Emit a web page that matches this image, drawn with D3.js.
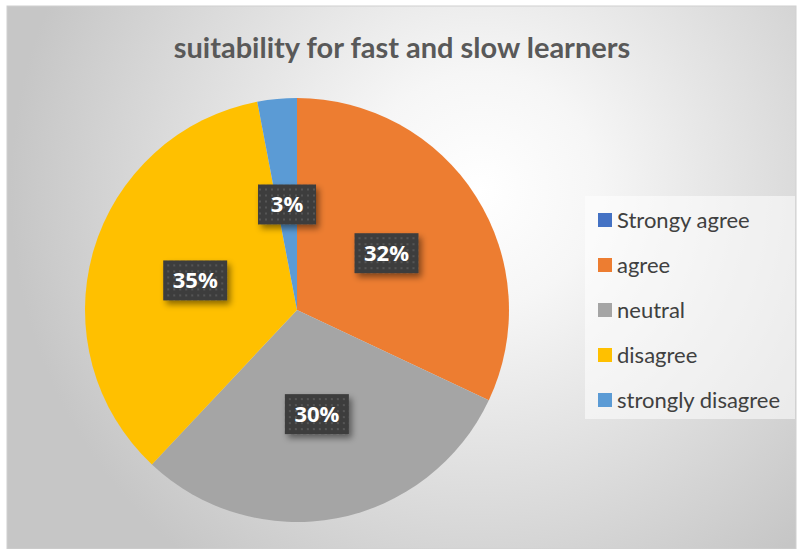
<!DOCTYPE html>
<html>
<head>
<meta charset="utf-8">
<script src="https://cdn.jsdelivr.net/npm/d3@7"></script>
<style>
  body { margin: 0; background: #fff; }
  svg { display: block; }
</style>
</head>
<body>
<script>
var width = 800;
var height = 549;

var categories = ["Strongy agree", "agree", "neutral", "disagree", "strongly disagree"];
var values = [0, 32, 30, 35, 3];
var colors = ["#4472C4", "#ED7D31", "#A5A5A5", "#FFC000", "#5B9BD5"];

var title = "suitability for fast and slow learners";

var cx = 297, cy = 310, radius = 212;

var svg = d3.select("body")
  .append("svg")
  .attr("width", width)
  .attr("height", height);

var defs = svg.append("defs");

var bg = defs.append("radialGradient")
  .attr("id", "bg")
  .attr("gradientUnits", "userSpaceOnUse")
  .attr("cx", 480).attr("cy", 190).attr("r", 470);
bg.append("stop").attr("offset", "0%").attr("stop-color", "#ffffff");
bg.append("stop").attr("offset", "25%").attr("stop-color", "#f6f6f6");
bg.append("stop").attr("offset", "100%").attr("stop-color", "#c6c6c6");

// dotted fill for the data labels
var pat = defs.append("pattern")
  .attr("id", "dots")
  .attr("patternUnits", "userSpaceOnUse")
  .attr("width", 6).attr("height", 6);
pat.append("rect").attr("width", 6).attr("height", 6).attr("fill", "#3d3d3d");
pat.append("rect").attr("x", 2).attr("y", 2).attr("width", 2).attr("height", 2).attr("fill", "#555");

var shadow = defs.append("filter").attr("id", "shadow")
  .attr("x", "-20%").attr("y", "-20%").attr("width", "150%").attr("height", "160%");
shadow.append("feDropShadow")
  .attr("dx", 3).attr("dy", 4).attr("stdDeviation", 3)
  .attr("flood-color", "#000").attr("flood-opacity", 0.45);

svg.append("rect")
  .attr("x", 7).attr("y", 6)
  .attr("width", 789).attr("height", 543)
  .attr("fill", "url(#bg)")
  .attr("stroke", "#d0d0d0");

svg.append("text")
  .attr("x", 402)
  .attr("y", 58)
  .attr("text-anchor", "middle")
  .attr("font-family", "Lato, 'Open Sans', sans-serif")
  .attr("font-weight", "bold")
  .attr("font-size", 29)
  .attr("fill", "#595959")
  .text(title);

var data = categories.map(function(c, i) {
  return { name: c, value: values[i], color: colors[i] };
});

var pie = d3.pie()
  .sort(null)
  .value(function(d) { return d.value; });

var arc = d3.arc().innerRadius(0).outerRadius(radius);

var g = svg.append("g")
  .attr("transform", "translate(" + cx + "," + cy + ")");

var arcs = pie(data);

g.selectAll("path")
  .data(arcs)
  .enter()
  .append("path")
    .attr("d", arc)
    .attr("fill", function(d) { return d.data.color; });

// labels
var labels = g.selectAll("g.lbl")
  .data(arcs.filter(function(d) { return d.data.value > 0; }))
  .enter()
  .append("g")
    .attr("class", "lbl")
    .attr("transform", function(d) {
      var c = arc.centroid(d);
      return "translate(" + c[0] + "," + c[1] + ")";
    });

labels.append("rect")
  .attr("x", function(d) { return d.data.value < 10 ? -29 : -32; })
  .attr("y", -20)
  .attr("width", function(d) { return d.data.value < 10 ? 58 : 64; })
  .attr("height", 40)
  .attr("fill", "url(#dots)")
  .attr("filter", "url(#shadow)");

labels.append("text")
  .attr("text-anchor", "middle")
  .attr("dy", "0.36em")
  .attr("font-family", "'Open Sans', sans-serif")
  .attr("font-weight", "bold")
  .attr("font-size", 22)
  .attr("fill", "#fff")
  .text(function(d) { return d.data.value + "%"; });

// legend
var legend = svg.append("g");
legend.append("rect")
  .attr("x", 585).attr("y", 196)
  .attr("width", 210).attr("height", 223)
  .attr("fill", "#ffffff").attr("fill-opacity", 0.55);

var ly = d3.scalePoint()
  .domain(categories)
  .range([220, 400]);

var items = legend.selectAll("g.item")
  .data(data)
  .enter()
  .append("g")
    .attr("class", "item")
    .attr("transform", function(d) { return "translate(598," + ly(d.name) + ")"; });

items.append("rect")
  .attr("x", 0).attr("y", -7)
  .attr("width", 14).attr("height", 14)
  .attr("fill", function(d) { return d.color; });

items.append("text")
  .attr("x", 19)
  .attr("dy", "0.35em")
  .attr("font-family", "Lato, 'Open Sans', sans-serif")
  .attr("font-size", 22)
  .attr("fill", "#404040")
  .text(function(d) { return d.name; });
</script>
</body>
</html>
